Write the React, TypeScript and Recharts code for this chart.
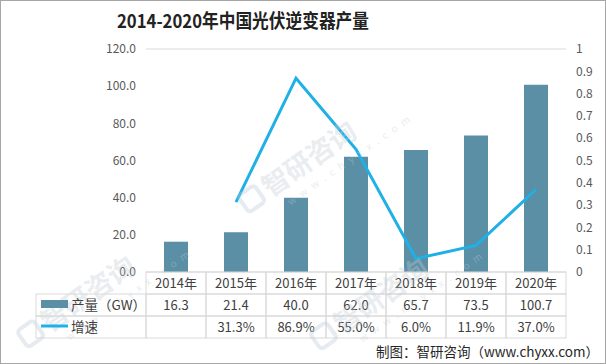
import { ComposedChart, Bar, Line, XAxis, YAxis, CartesianGrid } from "recharts";

const years = ["2014年", "2015年", "2016年", "2017年", "2018年", "2019年", "2020年"];
const output = [16.3, 21.4, 40.0, 62.0, 65.7, 73.5, 100.7];
const growth: (number | null)[] = [null, 0.313, 0.869, 0.55, 0.06, 0.119, 0.37];
const leftTicks = [0, 20, 40, 60, 80, 100, 120];
const rightTicks = [0, 0.1, 0.2, 0.3, 0.4, 0.5, 0.6, 0.7, 0.8, 0.9, 1];

const data = years.map((year, i) => ({ year, output: output[i], growth: growth[i] }));

// watermark centres (only the ones fully inside the frame)
const marks = [
  [313, 168],
  [385, 305],
  [92, 303],
];

const BAR = "#5b8fa6";
const LINE = "#1fb0e6";
const GRID = "#d9d9d9";
const TEXT = "#404040";
const FONT = "'Noto Sans CJK SC', 'Noto Sans', sans-serif";

const ROW = 22;
const CELL = 60;

function TableTick(props: any) {
  const { x, y, payload } = props;
  const i = payload.index;
  const g = growth[i];
  const rows = [years[i], output[i].toFixed(1), g == null ? "" : (g * 100).toFixed(1) + "%"];
  return (
    <g>
      {rows.map((t, r) => (
        <g key={r}>
          <rect
            x={x - CELL / 2}
            y={y + r * ROW}
            width={CELL}
            height={ROW}
            fill="none"
            stroke={GRID}
          />
          <text
            x={x}
            y={y + r * ROW + 15.5}
            textAnchor="middle"
            fontSize={13}
            fill={TEXT}
            fontFamily={FONT}
          >
            {t}
          </text>
        </g>
      ))}
    </g>
  );
}

function Watermark({ cx, cy }: { cx: number; cy: number }) {
  return (
    <g transform={`translate(${cx},${cy}) rotate(-35)`} opacity={0.35}>
      <rect x={-78} y={-20} width={20} height={20} rx={4} fill="none" stroke="#b9c8d8" strokeWidth={4} />
      <text x={-52} y={0} fontSize={27} fill="#c2ccd6" fontFamily={FONT} fontWeight={700}>
        智研咨询
      </text>
      <text x={-40} y={18} fontSize={10} fill="#c2ccd6" fontFamily={FONT} letterSpacing={6}>
        www.chyxx.com
      </text>
    </g>
  );
}

export default function App() {
  return (
    <div
      style={{
        position: "absolute",
        left: 0,
        top: 0,
        width: 606,
        height: 364,
        background: "#fff",
        border: "1px solid #a6a6a6",
        boxSizing: "border-box",
        fontFamily: FONT,
      }}
    >
      <div style={{ position: "absolute", left: -1, top: -1 }}>
        <ComposedChart
          width={606}
          height={364}
          data={data}
          margin={{ top: 49, right: 0, left: 0, bottom: 0 }}
          barCategoryGap="30%"
        >
          <CartesianGrid vertical={false} stroke={GRID} />
          <XAxis
            dataKey="year"
            axisLine={false}
            tickLine={false}
            tickSize={0}
            tickMargin={0}
            interval={0}
            height={92}
            tick={<TableTick />}
          />
          <YAxis
            yAxisId="left"
            domain={[0, 120]}
            ticks={leftTicks}
            tickFormatter={(v) => Number(v).toFixed(1)}
            axisLine={false}
            tickLine={false}
            width={146}
            tickMargin={4}
            tick={{ fontSize: 12, fill: "#595959", fontFamily: FONT }}
          />
          <YAxis
            yAxisId="right"
            orientation="right"
            domain={[0, 1]}
            ticks={rightTicks}
            interval={0}
            axisLine={false}
            tickLine={false}
            width={40}
            tickMargin={4}
            tick={{ fontSize: 12, fill: "#595959", fontFamily: FONT, textAnchor: "start" }}
          />
          <Bar yAxisId="left" dataKey="output" fill={BAR} isAnimationActive={false} />
          <Line
            yAxisId="right"
            dataKey="growth"
            stroke={LINE}
            strokeWidth={3}
            dot={false}
            activeDot={false}
            isAnimationActive={false}
          />
        </ComposedChart>
      </div>
      <svg
        width={606}
        height={364}
        style={{ position: "absolute", left: -1, top: -1, pointerEvents: "none" }}
      >
        {marks.map(([cx, cy], i) => (
          <Watermark key={i} cx={cx} cy={cy} />
        ))}
        <text
          x={117}
          y={28}
          fontSize={19}
          fontWeight={700}
          fill="#222"
          fontFamily={FONT}
          textLength={252}
          lengthAdjust="spacingAndGlyphs"
        >
          2014-2020年中国光伏逆变器产量
        </text>
        <rect x={36} y={294} width={110} height={ROW} fill="none" stroke={GRID} />
        <rect x={36} y={316} width={110} height={ROW} fill="none" stroke={GRID} />
        <rect x={41} y={300} width={27} height={8} fill={BAR} />
        <line x1={41} x2={68} y1={326} y2={326} stroke={LINE} strokeWidth={3} />
        <text x={71} y={310} fontSize={13.5} fill={TEXT} fontFamily={FONT}>
          产量（GW）
        </text>
        <text x={71} y={332} fontSize={13.5} fill={TEXT} fontFamily={FONT}>
          增速
        </text>
        <text x={599} y={357} textAnchor="end" fontSize={13.5} fill="#262626" fontFamily={FONT}>
          制图：智研咨询（www.chyxx.com）
        </text>
      </svg>
    </div>
  );
}
